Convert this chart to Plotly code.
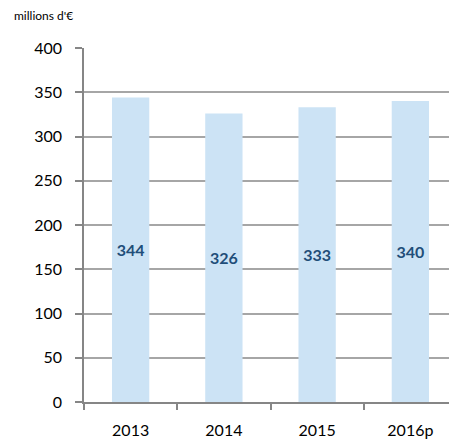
from plotly import graph_objects

years = ['2013', '2014', '2015', '2016p']
values = [344, 326, 333, 340]
y_ticks = [0, 50, 100, 150, 200, 250, 300, 350, 400]

# page body has an 8px margin, so the figure is sized to fit the window
W, H = 449, 434
L, T, B, R = 76, 40, 40, 0
plot_w = W - L - R
plot_h = H - T - B

fig = graph_objects.Figure()
fig.add_trace(graph_objects.Bar(x=years,
                                y=values,
                                text=[str(v) for v in values],
                                textposition='inside',
                                insidetextanchor='middle',
                                textangle=0,
                                textfont=dict(family='Lato', size=16, color='#1F4E79', weight='bold'),
                                marker=dict(color='#CCE3F5', line=dict(width=0)),
                                width=0.4))

fig.update_layout(width=W, height=H,
                  margin=dict(l=L, r=R, t=T, b=B),
                  plot_bgcolor='white', paper_bgcolor='white',
                  showlegend=False,
                  font=dict(family='Lato', size=16, color='black'))
fig.update_xaxes(type='category', tickson='boundaries', ticks='outside', ticklen=6,
                 tickcolor='#868686', tickwidth=1.5, ticklabelstandoff=13,
                 showline=True, linecolor='#868686', linewidth=1.5,
                 showgrid=False, tickfont=dict(size=16), automargin=False)
fig.update_yaxes(range=[0, 400], tickvals=y_ticks, ticks='outside', ticklen=7,
                 tickcolor='#868686', tickwidth=1.5, ticklabelstandoff=10,
                 showline=True, linecolor='#868686', linewidth=1.5,
                 showgrid=True, gridcolor='#A6A6A6', gridwidth=1.5,
                 zeroline=False, tickfont=dict(size=16), automargin=False)
fig.add_annotation(text="millions d'€", xref='paper', yref='paper',
                   x=(4 - L) / plot_w, y=1 + (T - 7) / plot_h,
                   xanchor='left', yanchor='middle', showarrow=False,
                   font=dict(family='Lato', size=12, color='black'))

fig.write_html("out.html")
